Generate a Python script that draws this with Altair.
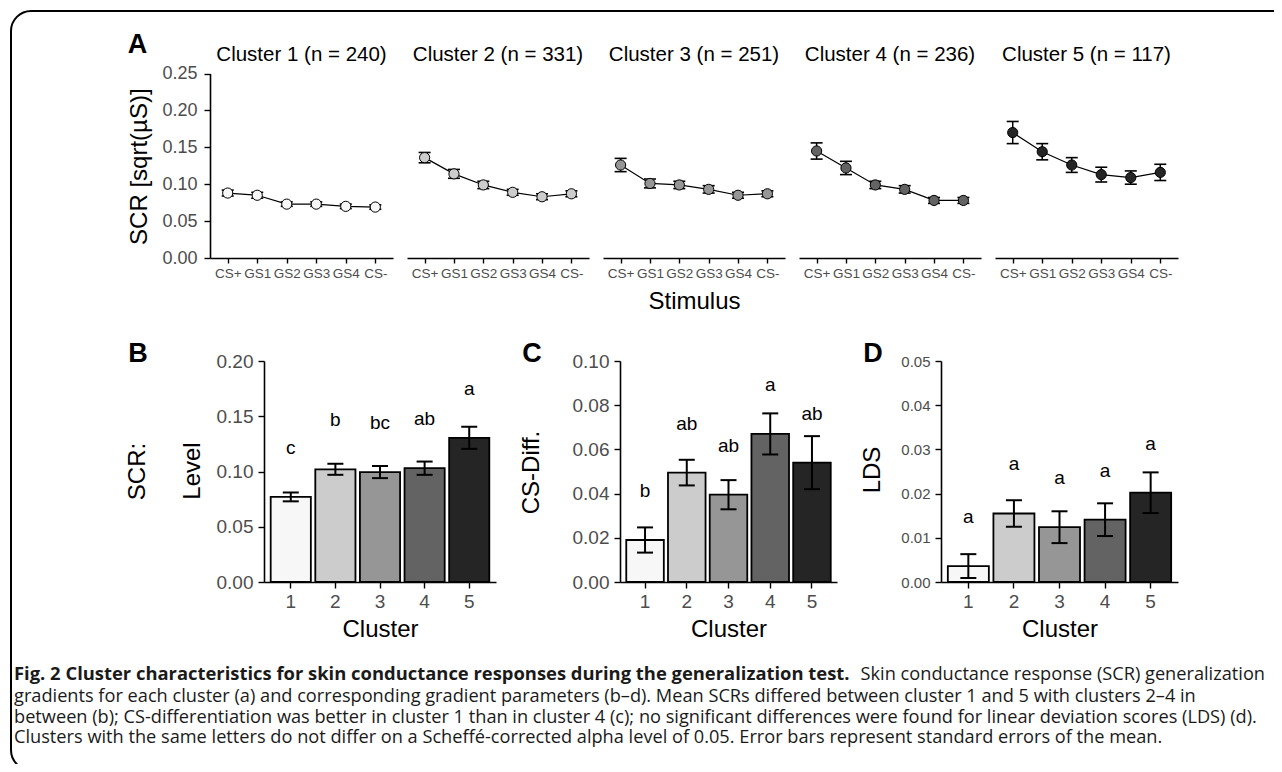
import altair as alt
import pandas as pd

# ---------------- data ----------------
STIMULI = ["CS+", "GS1", "GS2", "GS3", "GS4", "CS-"]
CLUSTERS = [1, 2, 3, 4, 5]
CLUSTER_N = [240, 331, 251, 236, 117]
GREYS = ["#F7F7F7", "#CCCCCC", "#969696", "#636363", "#252525"]

SCR_C1 = [0.088, 0.085, 0.073, 0.073, 0.070, 0.069]
SE_C1 = [0.004, 0.004, 0.003, 0.003, 0.003, 0.003]
SCR_C2 = [0.136, 0.114, 0.099, 0.089, 0.083, 0.087]
SE_C2 = [0.007, 0.006, 0.005, 0.004, 0.004, 0.004]
SCR_C3 = [0.126, 0.101, 0.099, 0.093, 0.085, 0.087]
SE_C3 = [0.009, 0.006, 0.005, 0.005, 0.004, 0.004]
SCR_C4 = [0.145, 0.122, 0.099, 0.093, 0.078, 0.078]
SE_C4 = [0.011, 0.009, 0.005, 0.005, 0.004, 0.004]
SCR_C5 = [0.170, 0.144, 0.126, 0.113, 0.109, 0.116]
SE_C5 = [0.015, 0.011, 0.010, 0.010, 0.009, 0.011]

LEVEL_MEAN = [0.077, 0.102, 0.0995, 0.103, 0.1305]
LEVEL_SE = [0.004, 0.005, 0.0055, 0.006, 0.010]
LEVEL_LETTERS = ["c", "b", "bc", "ab", "a"]

CSDIFF_MEAN = [0.019, 0.0495, 0.0395, 0.067, 0.054]
CSDIFF_SE = [0.0057, 0.0058, 0.0066, 0.0093, 0.012]
CSDIFF_LETTERS = ["b", "ab", "ab", "a", "ab"]

LDS_MEAN = [0.0036, 0.0155, 0.0124, 0.0141, 0.0202]
LDS_SE = [0.0027, 0.0030, 0.0036, 0.0037, 0.0046]
LDS_LETTERS = ["a", "a", "a", "a", "a"]

A_TICKS = [0.0, 0.05, 0.10, 0.15, 0.20, 0.25]
LEVEL_TICKS = [0.0, 0.05, 0.10, 0.15, 0.20]
CSDIFF_TICKS = [0.0, 0.02, 0.04, 0.06, 0.08, 0.10]
LDS_TICKS = [0.0, 0.01, 0.02, 0.03, 0.04, 0.05]

CAPTION_BOLD = "Fig. 2 Cluster characteristics for skin conductance responses during the generalization test."
CAPTION_L1 = "Skin conductance response (SCR) generalization"
CAPTION_REST = [
    "gradients for each cluster (a) and corresponding gradient parameters (b\u2013d). Mean SCRs differed between cluster 1 and 5 with clusters 2\u20134 in",
    "between (b); CS-differentiation was better in cluster 1 than in cluster 4 (c); no significant differences were found for linear deviation scores (LDS) (d).",
    "Clusters with the same letters do not differ on a Scheff\u00e9-corrected alpha level of 0.05. Error bars represent standard errors of the mean.",
]

# ---------------- layout ----------------
W, H = 1266, 756
FONT = "Liberation Sans"
CAP_FONT = "Open Sans"
A_X = [(202, 385), (399, 581), (595, 777), (791, 973), (987, 1170)]
A_Y = (250, 65.5)
BAR_Y = (574, 353)
B_X = (256, 488)
C_X = (612, 829)
D_X = (933, 1170)

SCR_MEANS = [SCR_C1, SCR_C2, SCR_C3, SCR_C4, SCR_C5]
SCR_SES = [SE_C1, SE_C2, SE_C3, SE_C4, SE_C5]

fill_enc = alt.Fill("cluster:O", scale=alt.Scale(domain=CLUSTERS, range=GREYS), legend=None)


def axis_style(**kw):
    base = dict(domainColor="black", domainWidth=1.6, tickColor="black", tickWidth=1.4,
                labelColor="#4D4D4D", labelFont=FONT, grid=False, titleFont=FONT,
                titleColor="black", titleFontWeight="normal")
    base.update(kw)
    return alt.Axis(**base)


ONE = alt.Data(values=[{"k": 0}])


def label(text, x, y, size, angle=0, weight="normal", font=FONT, align="center",
          baseline="middle", color="black", line_height=None):
    kw = dict(font=font, fontSize=size, fontWeight=weight, align=align,
              baseline=baseline, color=color)
    if angle:
        kw["angle"] = angle
    if line_height:
        kw["lineHeight"] = line_height
    return alt.Chart(ONE).mark_text(**kw).encode(
        x=alt.value(x), y=alt.value(y), text=alt.value(text))


def scr_panel(i):
    df = pd.DataFrame({"stimulus": STIMULI, "scr": SCR_MEANS[i], "se": SCR_SES[i]})
    df["cluster"] = CLUSTERS[i]
    df["lo"] = df["scr"] - df["se"]
    df["hi"] = df["scr"] + df["se"]
    x0, x1 = A_X[i]
    xaxis_kw = dict(orient="bottom", offset=A_Y[0] - H, tickSize=5, labelFontSize=13.5,
                    labelPadding=3, labelAngle=0, title=None)
    if i == 2:
        xaxis_kw.update(title="Stimulus", titleFontSize=24, titlePadding=10)
    xenc = alt.X("stimulus:N", sort=STIMULI,
                 scale=alt.Scale(type="point", domain=STIMULI, range=[x0, x1], padding=0.6),
                 axis=axis_style(**xaxis_kw))
    yscale = alt.Scale(domain=[0, 0.25], range=[A_Y[0], A_Y[1]], nice=False, zero=False)
    if i == 0:
        yaxis = axis_style(orient="left", offset=-x0, values=A_TICKS, format=".2f",
                           labelFontSize=18, tickSize=6, labelPadding=7, title=None)
    else:
        yaxis = None

    def Y(field):
        return alt.Y(field, scale=yscale, axis=yaxis)

    base = alt.Chart(df)
    line = base.mark_line(color="black", strokeWidth=1.2).encode(x=xenc, y=Y("scr:Q"))
    rule = base.mark_rule(color="black", strokeWidth=1.5).encode(
        x=xenc, y=Y("lo:Q"), y2="hi:Q")
    cap_lo = base.mark_tick(color="black", size=12, thickness=1.6, opacity=1).encode(
        x=xenc, y=Y("lo:Q"))
    cap_hi = base.mark_tick(color="black", size=12, thickness=1.6, opacity=1).encode(
        x=xenc, y=Y("hi:Q"))
    pts = base.mark_point(shape="circle", filled=True, size=104, stroke="black",
                          strokeWidth=1, opacity=1).encode(
        x=xenc, y=Y("scr:Q"), fill=fill_enc)
    return alt.layer(line, rule, cap_lo, cap_hi, pts)


def bar_panel(means, ses, letters, xr, ymax, ticks, ylab_size):
    df = pd.DataFrame({"cluster": CLUSTERS, "mean": means, "se": ses, "letter": letters})
    df["lo"] = df["mean"] - df["se"]
    df["hi"] = df["mean"] + df["se"]
    x0, x1 = xr
    xenc = alt.X("cluster:O",
                 scale=alt.Scale(type="band", domain=CLUSTERS, range=[x0, x1],
                                 paddingInner=0.1, paddingOuter=0.15),
                 axis=axis_style(orient="bottom", offset=BAR_Y[0] - H, tickSize=6,
                                 labelFontSize=19, labelPadding=4, labelAngle=0,
                                 title="Cluster", titleFontSize=24, titlePadding=6))
    yscale = alt.Scale(domain=[0, ymax], range=[BAR_Y[0], BAR_Y[1]], nice=False, zero=True)
    yaxis = axis_style(orient="left", offset=-x0, values=ticks, format=".2f",
                       labelFontSize=ylab_size, tickSize=6, labelPadding=5, title=None)

    def Y(field):
        return alt.Y(field, scale=yscale, axis=yaxis)

    base = alt.Chart(df)
    bars = base.mark_bar(stroke="black", strokeWidth=1.8).encode(
        x=xenc, y=Y("mean:Q"), fill=fill_enc)
    rule = base.mark_rule(color="black", strokeWidth=2).encode(
        x=xenc, y=Y("lo:Q"), y2="hi:Q")
    cap_lo = base.mark_tick(color="black", size=16, thickness=2, opacity=1).encode(
        x=xenc, y=Y("lo:Q"))
    cap_hi = base.mark_tick(color="black", size=16, thickness=2, opacity=1).encode(
        x=xenc, y=Y("hi:Q"))
    txt = base.mark_text(dy=-43, baseline="alphabetic", fontSize=19, font=FONT,
                         color="black").encode(
        x=xenc, y=Y("mean:Q"), text="letter:N")
    return alt.layer(bars, rule, cap_lo, cap_hi, txt)


layers = [scr_panel(i) for i in range(5)]
layers.append(bar_panel(LEVEL_MEAN, LEVEL_SE, LEVEL_LETTERS, B_X, 0.20, LEVEL_TICKS, 19))
layers.append(bar_panel(CSDIFF_MEAN, CSDIFF_SE, CSDIFF_LETTERS, C_X, 0.10, CSDIFF_TICKS, 19))
layers.append(bar_panel(LDS_MEAN, LDS_SE, LDS_LETTERS, D_X, 0.05, LDS_TICKS, 15))

# panel titles for A
for i in range(5):
    x0, x1 = A_X[i]
    layers.append(label(f"Cluster {CLUSTERS[i]} (n = {CLUSTER_N[i]})", (x0 + x1) / 2, 46.5, 20.5))

# y-axis titles
layers.append(label("SCR [sqrt(\u00b5S)]", 132, 158.7, 24, angle=270))
layers.append(label("SCR:", 129.5, 463.5, 24, angle=270))
layers.append(label("Level", 185.3, 463, 24, angle=270))
layers.append(label("CS-Diff.", 523.7, 464.5, 24, angle=270))
layers.append(label("LDS", 865, 462, 24, angle=270))

# panel letters
for t, x, y in [("A", 129.5, 45), ("B", 130, 353.5), ("C", 524, 353.5), ("D", 865, 353.5)]:
    layers.append(label(t, x, y, 27, weight="bold", baseline="alphabetic"))

# caption
layers.append(label(CAPTION_BOLD, 6, 671.5, 18.4, weight="bold", font=CAP_FONT,
                    align="left", baseline="alphabetic", color="#1a1a1a"))
layers.append(label(CAPTION_L1, 1257, 671.5, 18.2, font=CAP_FONT, align="right",
                    baseline="alphabetic", color="#1a1a1a"))
layers.append(label(CAPTION_REST, 6, 694, 18.2, font=CAP_FONT, align="left",
                    baseline="alphabetic", color="#1a1a1a", line_height=20.5))

# frame around figure and caption
frame = alt.Chart(ONE).mark_rect(cornerRadius=20, fillOpacity=0, stroke="black",
                                 strokeWidth=2).encode(
    x=alt.value(3), y=alt.value(3), x2=alt.value(1320), y2=alt.value(762))
layers.append(frame)

chart = alt.layer(*layers).resolve_scale(
    x="independent", y="independent"
).properties(
    width=W, height=H, padding=0, autosize=alt.AutoSizeParams(type="none"),
    background="white"
).configure_view(strokeWidth=0)

chart.save("out.html", embed_options={"renderer": "svg", "actions": False})
